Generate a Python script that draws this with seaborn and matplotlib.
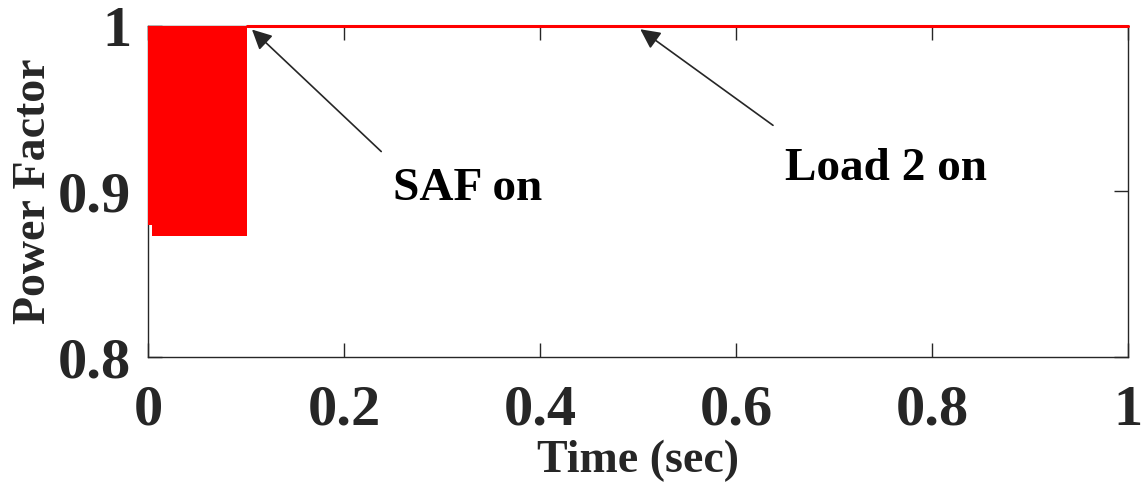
import matplotlib
matplotlib.use('Agg')

import numpy as np
import pandas as pd
import matplotlib.pyplot as plt
import seaborn as sns

sns.set_theme(style="white")
plt.rcParams['font.family'] = ['Liberation Serif', 'DejaVu Serif']
plt.rcParams['font.weight'] = 'bold'

# envelope of the oscillating power factor before SAF is switched on
t_env = [0.0, 0.004, 0.004, 0.101]
pf_low = [0.880, 0.880, 0.873, 0.873]
pf_high = [1.0, 1.0, 1.0, 1.0]

# steady power factor after SAF on
t_steady = [0.101, 1.0]
pf_steady = [1.0, 1.0]

x_ticks = [0, 0.2, 0.4, 0.6, 0.8, 1]
x_labels = ['0', '0.2', '0.4', '0.6', '0.8', '1']
y_ticks = [0.8, 0.9, 1.0]
y_labels = ['0.8', '0.9', '1']

fig = plt.figure(figsize=(11.45, 4.94), dpi=100)
ax = fig.add_axes([0.1293, 0.2773, 0.8559, 0.6701])

ax.fill_between(t_env, pf_low, pf_high, color='#ff0000', lw=0, zorder=4, clip_on=False)
df = pd.DataFrame({'t': t_steady, 'pf': pf_steady})
sns.lineplot(data=df, x='t', y='pf', ax=ax, color='#ff0000', lw=2.2, zorder=5, clip_on=False)

ax.set_xlim(0, 1)
ax.set_ylim(0.8, 1.0)
ax.set_xticks(x_ticks)
ax.set_xticklabels(x_labels)
ax.set_yticks(y_ticks)
ax.set_yticklabels(y_labels)
ax.tick_params(direction='in', length=10, width=1, color='#262626',
               labelsize=42, labelcolor='#262626', top=True, right=True,
               bottom=True, left=True, labeltop=False, labelright=False)
ax.tick_params(axis='x', pad=20)
ax.tick_params(axis='y', pad=12)
for lbl in ax.get_xticklabels() + ax.get_yticklabels():
    lbl.set_fontweight('bold')
for s in ax.spines.values():
    s.set_color('#262626')
    s.set_linewidth(1)

ax.set_xlabel('Time (sec)', fontsize=33, fontweight='bold', color='#262626', labelpad=2)
ax.set_ylabel('Power Factor', fontsize=33, fontweight='bold', color='#262626', labelpad=2)

arrow = dict(arrowstyle='-|>', lw=1.2, color='#262626', mutation_scale=30)
ax.annotate('', xy=(0.104, 0.999), xytext=(0.240, 0.923), arrowprops=arrow)
ax.annotate('', xy=(0.500, 0.999), xytext=(0.640, 0.939), arrowprops=arrow)
ax.text(0.250, 0.895, 'SAF on', fontsize=34, fontweight='bold', color='black')
ax.text(0.650, 0.907, 'Load 2 on', fontsize=34, fontweight='bold', color='black')

fig.savefig('out.png', dpi=100)
